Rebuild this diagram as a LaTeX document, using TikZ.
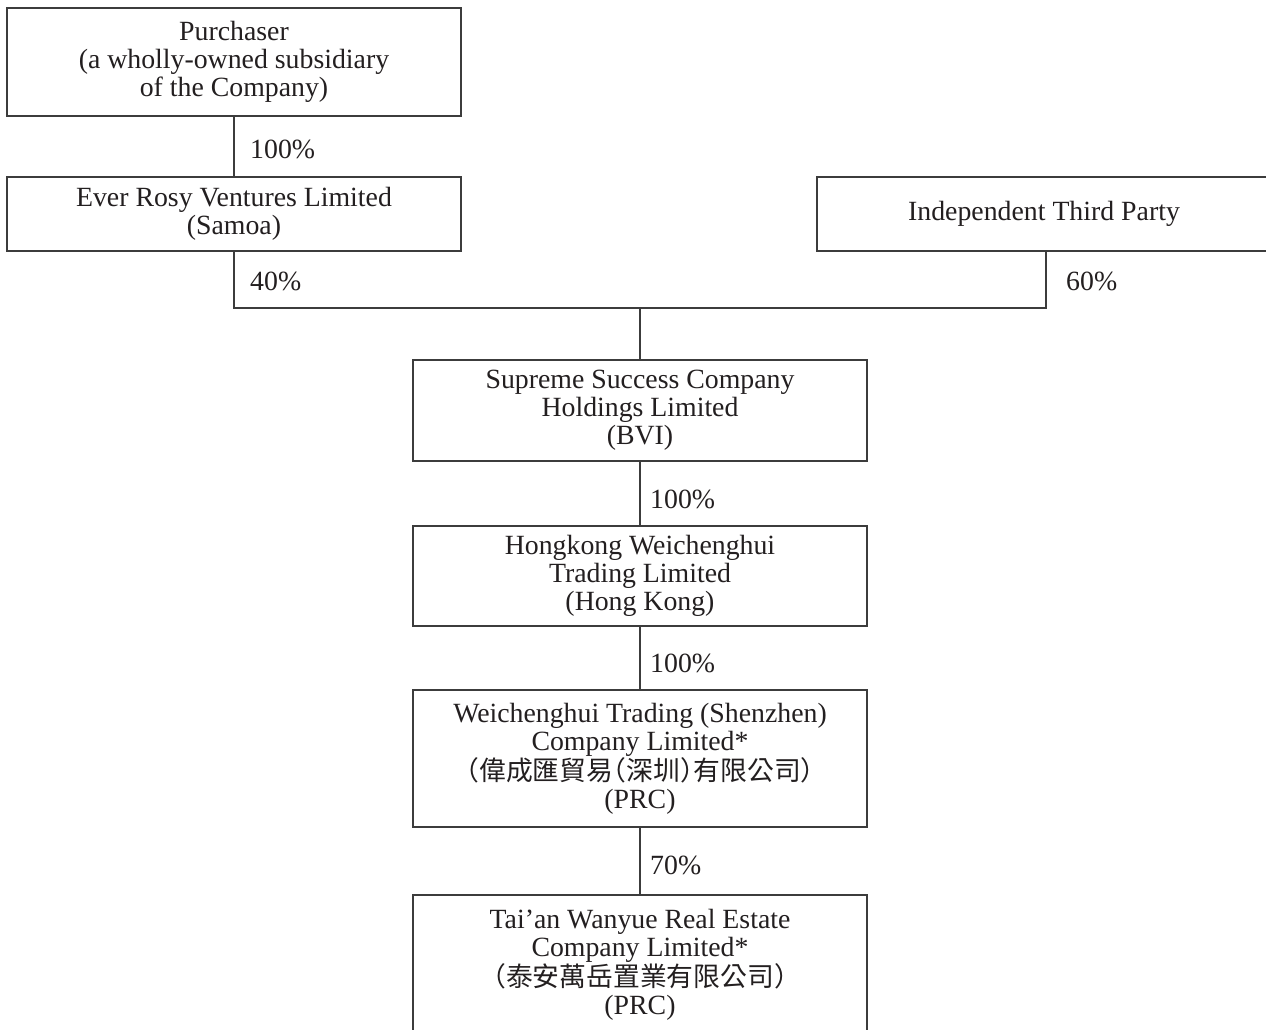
\documentclass[tikz,border=0pt]{standalone}
\usepackage{fontspec}
\setmainfont{Liberation Serif}
\newfontfamily\cjk[RawFeature=+halt]{Noto Sans CJK TC}
\definecolor{txt}{HTML}{231F20}
\definecolor{linec}{HTML}{3C3C3C}
\begin{document}
\begin{tikzpicture}[x=1pt,y=-1pt,
  box/.style={draw=linec, line width=1.3pt, minimum width=454pt, align=center,
    inner sep=0pt, text=txt, font=\fontsize{27.8}{28}\selectfont},
  pct/.style={anchor=west, inner sep=0pt, text=txt, font=\fontsize{27.8}{28}\selectfont},
  conn/.style={draw=linec, line width=1.3pt}]
\useasboundingbox (0,0) rectangle (1266,1029);
\clip (0,0) rectangle (1266,1029);
\fill[white] (0,0) rectangle (1266,1029);

\node[box, minimum height=108pt] (pur) at (234,62) {Purchaser\\(a wholly-owned subsidiary\\of the Company)};
\node[box, minimum height=74pt] (evr) at (234,214) {Ever Rosy Ventures Limited\\(Samoa)};
\node[box, minimum height=74pt] (ind) at (1044,214) {Independent Third Party};
\node[box, minimum height=101pt] (sup) at (640,410.5) {Supreme Success Company\\Holdings Limited\\(BVI)};
\node[box, minimum height=100pt] (hk) at (640,576) {Hongkong Weichenghui\\Trading Limited\\(Hong Kong)};
\node[box, minimum height=137pt] (wc) at (640,758.5) {Weichenghui Trading (Shenzhen)\\Company Limited*\\{\cjk\fontsize{26.8}{28}\selectfont （偉成匯貿易（深圳）有限公司）}\\(PRC)};
\node[box, minimum height=140pt] (ta) at (640,965) {Tai’an Wanyue Real Estate\\Company Limited*\\{\cjk\fontsize{26.8}{28}\selectfont （泰安萬岳置業有限公司）}\\(PRC)};

\coordinate (jl) at (234,308);
\coordinate (jm) at (640,308);
\coordinate (jr) at (1046,308);

\draw[conn] (pur.south) -- (evr.north);
\draw[conn] (evr.south) -- (jl) -- (jr) -- (jr |- ind.south);
\draw[conn] (jm) -- (sup.north);
\draw[conn] (sup.south) -- (hk.north);
\draw[conn] (hk.south) -- (wc.north);
\draw[conn] (wc.south) -- (ta.north);

\node[pct] (l1) at (250,149) {100\%};
\node[pct] (l2) at (250,281) {40\%};
\node[pct] (l3) at (1066,281) {60\%};
\node[pct] (l4) at (650,499) {100\%};
\node[pct] (l5) at (650,663) {100\%};
\node[pct] (l6) at (650,865) {70\%};
\end{tikzpicture}
\end{document}
